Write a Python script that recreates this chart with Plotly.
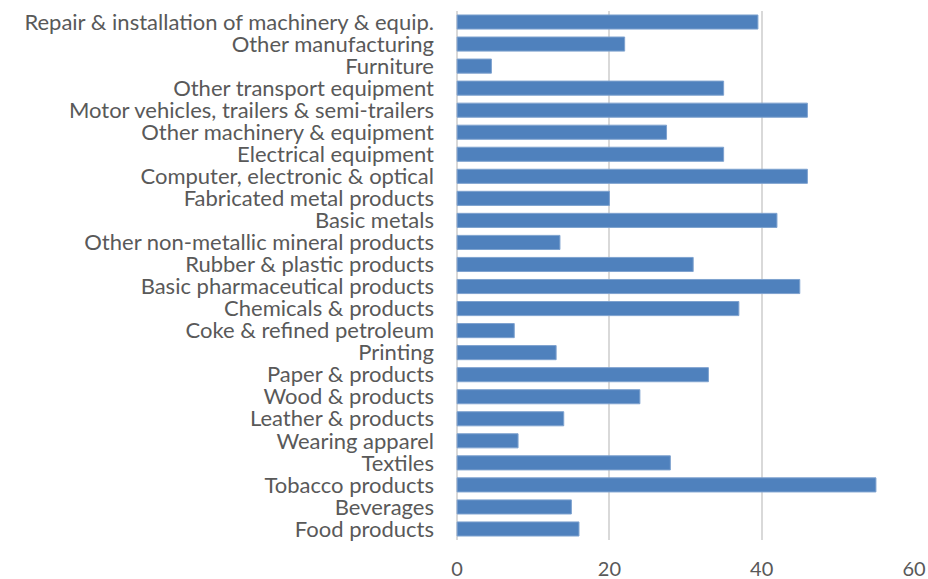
import plotly.graph_objects as go

# Industries, listed bottom to top as drawn
industries = [
    "Food products",
    "Beverages",
    "Tobacco products",
    "Textiles",
    "Wearing apparel",
    "Leather & products",
    "Wood & products",
    "Paper & products",
    "Printing",
    "Coke & refined petroleum",
    "Chemicals & products",
    "Basic pharmaceutical products",
    "Rubber & plastic products",
    "Other non-metallic mineral products",
    "Basic metals",
    "Fabricated metal products",
    "Computer, electronic & optical",
    "Electrical equipment",
    "Other machinery & equipment",
    "Motor vehicles, trailers & semi-trailers",
    "Other transport equipment",
    "Furniture",
    "Other manufacturing",
    "Repair & installation of machinery & equip.",
]

values = [16, 15, 55, 28, 8, 14, 24, 33, 13, 7.5, 37, 45, 31, 13.5, 42, 20,
          46, 35, 27.5, 46, 35, 4.5, 22, 39.5]

x_ticks = [0, 20, 40, 60]

font_family = "Lato, 'Open Sans', sans-serif"
text_color = "#595959"

fig = go.Figure(
    go.Bar(
        x=values,
        y=industries,
        orientation="h",
        marker=dict(color="#4F81BD", line=dict(color="#7EA2CF", width=1)),
        hoverinfo="x+y",
    )
)

fig.update_layout(
    width=928,
    height=579,
    margin=dict(l=456, r=14, t=11, b=39, autoexpand=False),
    paper_bgcolor="white",
    plot_bgcolor="white",
    bargap=0.36,
    showlegend=False,
    font=dict(family=font_family, size=20, color=text_color),
)

fig.update_xaxes(
    range=[-0.15, 60],
    tickmode="array",
    tickvals=x_ticks,
    ticktext=[str(v) for v in x_ticks],
    showgrid=True,
    gridcolor="#D9D9D9",
    gridwidth=2,
    zeroline=True,
    zerolinecolor="#D9D9D9",
    zerolinewidth=2,
    showline=False,
    ticks="",
    ticklabelstandoff=15,
    tickfont=dict(size=20, color=text_color),
    automargin=False,
    fixedrange=True,
)

fig.update_yaxes(
    type="category",
    categoryorder="array",
    categoryarray=industries,
    tickmode="array",
    tickvals=industries,
    ticktext=industries,
    showgrid=False,
    zeroline=False,
    showline=False,
    ticks="",
    ticklabelstandoff=21,
    tickfont=dict(size=22, color=text_color),
    automargin=False,
    fixedrange=True,
)

fig.write_html("out.html")
